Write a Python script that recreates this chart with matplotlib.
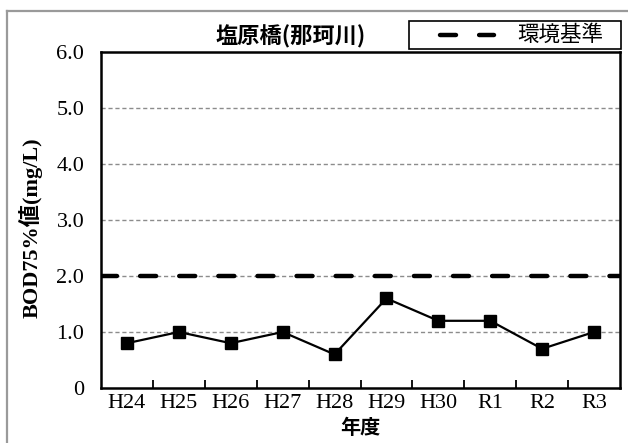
import matplotlib
matplotlib.use("Agg")
import matplotlib.pyplot as plt
from matplotlib.lines import Line2D
from matplotlib.patches import Rectangle

years = ["H24", "H25", "H26", "H27", "H28", "H29", "H30", "R1", "R2", "R3"]
bod75 = [0.8, 1.0, 0.8, 1.0, 0.6, 1.6, 1.2, 1.2, 0.7, 1.0]
standard = 2.0
y_ticks = [0, 1, 2, 3, 4, 5, 6]
y_tick_labels = ["0", "1.0", "2.0", "3.0", "4.0", "5.0", "6.0"]

title = "塩原橋(那珂川)"
legend_label = "環境基準"
y_label = "BOD75%値(mg/L)"
x_label = "年度"

serif = ["Liberation Serif", "Noto Sans CJK JP"]
gothic = ["Noto Sans CJK JP", "DejaVu Sans"]
std_dash = (0, (3.6, 5.2))

W, H = 628, 443
fig = plt.figure(figsize=(W / 100, H / 100), dpi=100)


def fx(px):
    return px / W


def fy(py):
    return 1 - py / H


# outer gray frame (clipped at right / bottom like the original)
fig.add_artist(Line2D([fx(7), 1], [fy(11), fy(11)], color="#9a9a9a", lw=1.6))
fig.add_artist(Line2D([fx(7), fx(7)], [0, fy(11)], color="#9a9a9a", lw=1.6))

left, right, top, bottom = 101, 620, 52, 388
ax = fig.add_axes([fx(left), fy(bottom), (right - left) / W, (bottom - top) / H])

x = list(range(len(years)))
ax.set_xlim(-0.5, len(years) - 0.5)
ax.set_ylim(0, 6)

for v in y_ticks[1:-1]:
    ax.axhline(v, color="#8c8c8c", lw=1.0, ls=(0, (3, 2)), zorder=1)

ax.axhline(standard, color="black", lw=3.2, ls=std_dash,
           dash_capstyle="round", zorder=2)
ax.plot(x, bod75, color="black", lw=1.6, marker="s", markersize=8.6, zorder=3)

for s in ax.spines.values():
    s.set_linewidth(1.8)

ax.set_yticks(y_ticks)
ax.set_yticklabels(y_tick_labels, fontfamily=serif, fontsize=16)
ax.tick_params(axis="y", length=0, pad=12)

ax.set_xticks(x)
ax.set_xticklabels(years, fontfamily=serif, fontsize=16)
ax.set_xticks([i + 0.5 for i in range(len(years) - 1)], minor=True)
ax.tick_params(axis="x", which="major", length=0, pad=4)
ax.tick_params(axis="x", which="minor", direction="in", length=6, width=1.3)

fig.text(fx(291), fy(37), title, ha="center", va="center",
         fontfamily=gothic, fontsize=16, fontweight="bold")
fig.text(fx(360), fy(428), x_label, ha="center", va="center",
         fontfamily=gothic, fontsize=14.5, fontweight="bold")
fig.text(fx(31), fy(228), y_label, ha="center", va="center", rotation=90,
         fontfamily=serif, fontsize=16, fontweight="bold")

# legend box drawn by hand to get the original's proportions
fig.add_artist(Rectangle((fx(409), fy(49)), fx(621) - fx(409), fy(21) - fy(49),
                         facecolor="white", edgecolor="black", lw=1.2))
fig.add_artist(Line2D([fx(440), fx(494)], [fy(35), fy(35)], color="black", lw=3.2,
                      ls=std_dash, dash_capstyle="round"))
fig.text(fx(517), fy(35), legend_label, ha="left", va="center",
         fontfamily=gothic, fontsize=15.5)

fig.savefig("out.png", dpi=100)
